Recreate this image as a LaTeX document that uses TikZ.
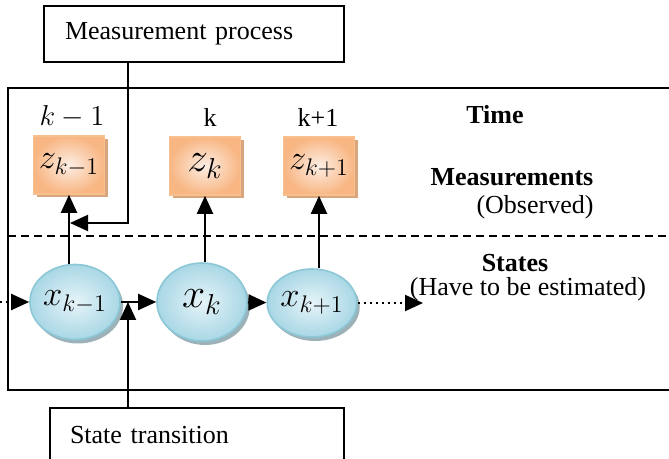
\documentclass[tikz,border=0pt]{standalone}
\usepackage{fontspec}
\setmainfont{Liberation Serif}
\usetikzlibrary{arrows.meta,shadows,shapes.geometric}
\definecolor{zedge}{HTML}{F9C08F}
\definecolor{zin}{HTML}{FDEEE4}
\definecolor{zout}{HTML}{F8B683}
\definecolor{zshade}{HTML}{D9A57D}
\definecolor{xedge}{HTML}{8BC7D6}
\definecolor{xin}{HTML}{E6F4F8}
\definecolor{xout}{HTML}{A9D7E5}
\definecolor{xshade}{HTML}{9DB2B8}
\newcommand{\mbig}{\fontsize{17}{20}\selectfont}
\newcommand{\mhuge}{\fontsize{21}{24}\selectfont}
\tikzset{
  zbox/.style={rectangle, draw=zedge, line width=0.8pt, inner color=zin, outer color=zout,
    minimum width=35.5pt, minimum height=29pt, inner sep=0pt, font=\mbig,
    drop shadow={shadow xshift=1.5pt, shadow yshift=-1.5pt, fill=zshade, opacity=1}},
  xell/.style={ellipse, draw=xedge, line width=0.8pt, inner color=xin, outer color=xout, inner sep=0pt,
    font=\mbig, drop shadow={shadow xshift=1.5pt, shadow yshift=-2pt, fill=xshade, opacity=1}},
  arr/.style={-{Triangle[length=9pt,width=8pt]}, line width=1pt},
  textbox/.style={draw, line width=0.8pt, align=left, inner xsep=10pt},
  head/.style={font=\fontsize{13}{15}\selectfont\bfseries}
}
\begin{document}
\begin{tikzpicture}[x=0.5pt,y=-0.5pt,font=\fontsize{13}{15}\selectfont]
\useasboundingbox (0,0) rectangle (669,459);
% frame and dividing line
\draw[line width=0.8pt] (8,88) rectangle (700,390);
\draw[line width=0.7pt, dash pattern=on 4pt off 2.5pt] (8,236) -- (669,236);

\node[textbox, text width=129pt, inner xsep=10.5pt, minimum height=28pt] (mp) at (194,34) {Measurement process};
\node[textbox, text width=127pt, minimum height=27pt] (st) at (197,435) {State transition};

\node[font=\fontsize{14}{16}\selectfont] (ta) at (72,117) {$k-1$};
\node (tb) at (210,117) {k};
\node (tc) at (318,117) {k+1};
\node[head] (time) at (495,115) {Time};
\node[head] (meas) at (512,177) {Measurements};
\node (obs) at (535,207) {(Observed)};
\node[head] (states) at (515,263) {States};
\node (est) at (528,289) {(Have to be estimated)};

\node[zbox] (za) at (69,165) {$z_{k-1}$};
\node[zbox, font=\mhuge] (zb) at (205,166) {$z_k$};
\node[zbox] (zc) at (319,166) {$z_{k+1}$};

\node[xell, minimum width=43pt, minimum height=37.5pt] (xa) at (75,302) {$x_{k-1}$};
\node[xell, minimum width=45pt, minimum height=39pt, font=\mhuge] (xb) at (202,302) {$x_k$};
\node[xell, minimum width=41.5pt, minimum height=34pt] (xc) at (312,303) {$x_{k+1}$};

\coordinate (inl) at (0,302);
\coordinate (outr) at (423,303);
\coordinate (sthit) at (128,302);
\coordinate (mhit) at (70,223);

\draw[arr, dotted] (inl) -- (xa);
\draw[arr] (xa) -- (xb);
\draw[arr] (xb) -- (xc);
\draw[arr, dotted] (xc) -- (outr);
\foreach \n in {a,b,c}
  \draw[arr] (z\n.south |- x\n.north) -- (z\n.south);
\draw[arr] (st.north -| sthit) -- (sthit);
\draw[arr] (mp.south -| sthit) |- (mhit);
\end{tikzpicture}
\end{document}
